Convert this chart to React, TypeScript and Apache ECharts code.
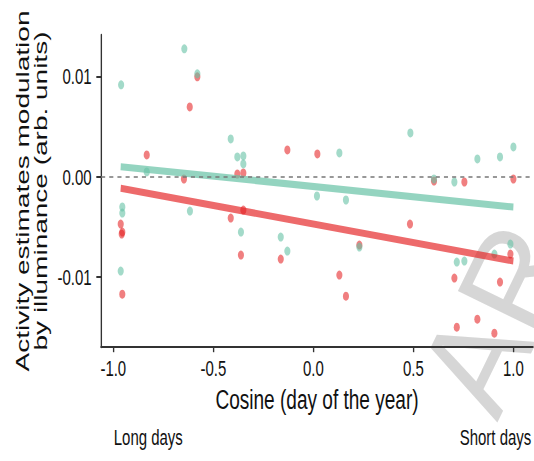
import React, { useEffect, useRef } from "react";
import * as echarts from "echarts";

// ---- data ----
const redX = [-0.963, -0.958, -0.955, -0.955, -0.833, -0.647, -0.618, -0.58, -0.413, -0.38, -0.35, -0.35, -0.362, -0.163, -0.13, 0.02, 0.13, 0.163, 0.23, 0.483, 0.603, 0.705, 0.717, 0.755, 0.82, 0.905, 0.933, 0.985, 1.0];
const redY = [-0.0047, -0.0057, -0.0055, -0.0117, 0.0022, -0.0002, 0.007, 0.01, -0.0041, 0.0003, 0.0004, -0.0033, -0.0078, -0.0082, 0.0027, 0.0023, -0.0098, -0.0119, -0.0068, -0.0047, -0.0004, -0.0101, -0.015, -0.0005, -0.0142, -0.0156, -0.0105, -0.0077, -0.0002];
const tealX = [-0.961, -0.955, -0.955, -0.963, -0.833, -0.645, -0.58, -0.617, -0.413, -0.38, -0.35, -0.35, -0.362, -0.163, -0.13, 0.018, 0.13, 0.163, 0.23, 0.485, 0.603, 0.705, 0.717, 0.755, 0.82, 0.905, 0.933, 0.985, 1.0];
const tealY = [0.0092, -0.003, -0.0036, -0.0094, 0.0005, 0.0128, 0.0103, -0.0034, 0.0038, 0.002, 0.0021, 0.0013, -0.0055, -0.006, -0.0074, -0.0019, 0.0024, -0.0023, -0.007, 0.0044, -0.0002, -0.0005, -0.0085, -0.0084, 0.0018, -0.0077, 0.002, -0.0067, 0.003];
const redFitX = [-0.963, 1.0];
const redFitY = [-0.00113, -0.0084];
const tealFitX = [-0.963, 1.0];
const tealFitY = [0.00103, -0.003];
const xTicks = [-1, -0.5, 0, 0.5, 1];
const yTicks = [-0.01, 0, 0.01];
const xTitle = "Cosine (day of the year)";
const yTitle = "Activity estimates modulation\nby illuminance (arb. units)";
const leftNote = "Long days";
const rightNote = "Short days";
const watermark = "AR";

const W = 534;
const H = 461;
const INNER_W = 785;
const S = W / INNER_W;
const FONT = "'Liberation Sans', Arial, Helvetica, sans-serif";
const TXT = "#111";
const AX = "#333";

export default function App() {
  const ref = useRef<HTMLDivElement>(null);
  useEffect(() => {
    if (!ref.current) return;
    const chart = echarts.init(ref.current, undefined, { renderer: "svg" });
    const pairs = (xs: number[], ys: number[]) => xs.map((x, i) => [x, ys[i]]);
    chart.setOption({
      animation: false,
      backgroundColor: "#fff",
      textStyle: { fontFamily: FONT },
      grid: { left: 148.6, right: 1.5, top: 34.8, bottom: 113.8, containLabel: false, outerBoundsMode: "none" },
      xAxis: {
        type: "value",
        min: -1.061,
        max: 1.098,
        name: xTitle,
        nameLocation: "middle",
        nameGap: 38,
        nameTextStyle: { fontSize: 28, lineHeight: 28, color: TXT, fontFamily: FONT },
        axisLine: { show: true, onZero: false, lineStyle: { color: AX, width: 2 } },
        axisTick: { show: true, length: 5, customValues: xTicks, lineStyle: { color: AX, width: 2 } },
        axisLabel: { customValues: xTicks, formatter: (v: number) => v.toFixed(1), fontSize: 22, lineHeight: 22, margin: 10, color: TXT, fontFamily: FONT },
        splitLine: { show: false },
      },
      yAxis: {
        type: "value",
        min: -0.017,
        max: 0.0142,
        name: yTitle,
        nameLocation: "middle",
        nameRotate: 90,
        nameGap: 69,
        nameTextStyle: { fontSize: 28, lineHeight: 27, color: TXT, fontFamily: FONT },
        axisLine: { show: true, onZero: false, lineStyle: { color: AX, width: 2 } },
        axisTick: { show: true, length: 7, customValues: yTicks, lineStyle: { color: AX, width: 2 } },
        axisLabel: { customValues: yTicks, formatter: (v: number) => v.toFixed(2), fontSize: 22, margin: 14, color: TXT, fontFamily: FONT },
        splitLine: { show: false },
      },
      series: [
        {
          type: "scatter",
          name: "red",
          data: pairs(redX, redY),
          symbol: "circle",
          symbolSize: 9,
          itemStyle: { color: "rgba(228,26,28,0.7)" },
          z: 2,
          markLine: {
            silent: true,
            symbol: ["none", "none"],
            label: { show: false },
            lineStyle: { color: "#777", type: [6, 6], width: 1.5 },
            data: [{ yAxis: 0 }],
          },
        },
        {
          type: "scatter",
          name: "teal",
          data: pairs(tealX, tealY),
          symbol: "circle",
          symbolSize: 9,
          itemStyle: { color: "rgba(102,194,165,0.75)" },
          z: 2,
        },
        {
          type: "line",
          data: pairs(redFitX, redFitY),
          showSymbol: false,
          lineStyle: { color: "rgba(228,26,28,0.65)", width: 7, cap: "butt" },
          z: 3,
        },
        {
          type: "line",
          data: pairs(tealFitX, tealFitY),
          showSymbol: false,
          lineStyle: { color: "rgba(102,194,165,0.7)", width: 7, cap: "butt" },
          z: 3,
        },
      ],
      graphic: [
        {
          type: "text",
          x: 148.3 / S,
          y: 437,
          style: { text: leftNote, fontSize: 22, fontFamily: FONT, fill: TXT, align: "center", verticalAlign: "middle", textAlign: "center", textVerticalAlign: "middle" },
        },
        {
          type: "text",
          x: 495.5 / S,
          y: 437,
          style: { text: rightNote, fontSize: 22, fontFamily: FONT, fill: TXT, align: "center", verticalAlign: "middle", textAlign: "center", textVerticalAlign: "middle" },
        },
        {
          type: "group",
          x: 516 / S,
          y: 432,
          scaleX: 1 / S,
          silent: true,
          z: 10,
          children: [
            {
              type: "text",
              rotation: (64 * Math.PI) / 180,
              style: { text: watermark, fontSize: 135, fontFamily: FONT, fill: "rgba(200,200,200,0.75)", align: "left", verticalAlign: "bottom", textAlign: "left", textVerticalAlign: "bottom" },
            },
          ],
        },
      ],
    });
    return () => chart.dispose();
  }, []);

  return (
    <div style={{ position: "absolute", left: 0, top: 0, width: W, height: H, overflow: "hidden", background: "#fff" }}>
      <div
        style={{ width: INNER_W, height: H, transform: `scaleX(${S})`, transformOrigin: "0 0" }}
      >
        <div ref={ref} style={{ width: INNER_W, height: H }} />
      </div>
    </div>
  );
}
